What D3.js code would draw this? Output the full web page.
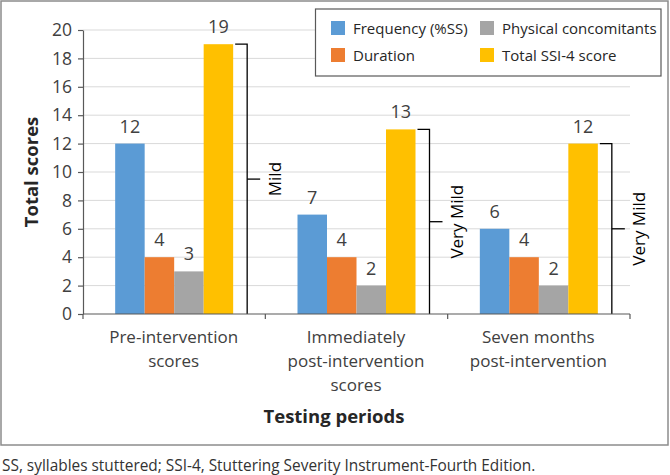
<!DOCTYPE html>
<html><head><meta charset="utf-8">
<script src="https://cdn.jsdelivr.net/npm/d3@7"></script>
<style>
body{margin:0;background:#fff;}
svg{display:block;font-family:"Open Sans",sans-serif;}
</style></head><body>
<svg id="chart" width="670" height="475"></svg>
<script>
const categories = [["Pre-intervention","scores"],["Immediately","post-intervention","scores"],["Seven months","post-intervention"]];
const seriesNames = ["Frequency (%SS)","Duration","Physical concomitants","Total SSI-4 score"];
const seriesColors = ["#5B9BD5","#ED7D31","#A5A5A5","#FFC000"];
const frequency = [12,7,6];
const duration = [4,4,4];
const physical = [3,2,2];
const total = [19,13,12];
const severity = ["Mild","Very Mild","Very Mild"];
const yTicks = [0,2,4,6,8,10,12,14,16,18,20];
const caption = "SS, syllables stuttered; SSI-4, Stuttering Severity Instrument-Fourth Edition.";

(function(){
const series = [frequency,duration,physical,total];
const svg = d3.select("#chart");
const fs = 16.5;

// frame
svg.append("rect").attr("x",1).attr("y",1).attr("width",667).attr("height",444)
  .attr("fill","none").attr("stroke","#8c8c8c").attr("stroke-width",1.5);

const pLeft=83,pRight=630,pTop=30,pBottom=314;
const y = d3.scaleLinear().domain([0,20]).range([pBottom,pTop]);
const catIdx = categories.map((c,i)=>i);
const x0 = d3.scaleBand().domain(catIdx).range([pLeft,pRight]).padding(0);
const inner = 118, off = (x0.bandwidth()-inner)/2;
const x1 = d3.scaleBand().domain(d3.range(series.length)).range([off,off+inner]).padding(0);

// gridlines
svg.append("g").selectAll("line").data(yTicks.filter(d=>d>0)).join("line")
  .attr("x1",pLeft).attr("x2",pRight).attr("y1",d=>y(d)).attr("y2",d=>y(d))
  .attr("stroke","#d9d9d9").attr("stroke-width",1);

// bars
const groups = svg.append("g").selectAll("g").data(catIdx).join("g")
  .attr("transform",i=>`translate(${x0(i)},0)`);
groups.selectAll("rect").data(i=>series.map((s,k)=>({k,v:s[i]}))).join("rect")
  .attr("x",d=>x1(d.k)).attr("width",x1.bandwidth())
  .attr("y",d=>y(d.v)).attr("height",d=>y(0)-y(d.v))
  .attr("fill",d=>seriesColors[d.k]);
groups.selectAll("text.val").data(i=>series.map((s,k)=>({k,v:s[i]}))).join("text")
  .attr("class","val")
  .attr("x",d=>x1(d.k)+x1.bandwidth()/2).attr("y",d=>y(d.v)-11)
  .attr("text-anchor","middle").attr("font-size",18).attr("fill","#404040")
  .text(d=>d.v);

// brackets
groups.each(function(i){
  const g=d3.select(this);
  const xr = x1(3)+x1.bandwidth();
  const bx = xr+14;
  const yt=y(total[i]), yb=y(0), ym=y(total[i]/2);
  g.append("path").attr("d",`M${xr+2},${yt}H${bx}V${yb}`).attr("fill","none")
    .attr("stroke","#000").attr("stroke-width",1.3);
  g.append("line").attr("x1",bx).attr("x2",bx+13).attr("y1",ym).attr("y2",ym)
    .attr("stroke","#000").attr("stroke-width",1.3);
  g.append("text").attr("transform",`translate(${bx+27},${ym}) rotate(-90)`)
    .attr("text-anchor","middle").attr("dominant-baseline","central")
    .attr("font-size",17).attr("fill","#000").text(severity[i]);
});

// y axis
const yAxis = svg.append("g").attr("transform",`translate(${pLeft},0)`)
  .call(d3.axisLeft(y).tickValues(yTicks).tickSize(5).tickSizeOuter(0).tickPadding(6));
yAxis.select(".domain").attr("stroke","#595959").attr("stroke-width",1.2);
yAxis.selectAll(".tick line").attr("stroke","#595959").attr("stroke-width",1.2);
yAxis.selectAll("text").attr("font-size",fs+1).attr("fill","#404040").attr("font-family","Open Sans");

// x axis
const xb = d3.scaleLinear().domain([0,3]).range([pLeft,pRight]);
const xAxis = svg.append("g").attr("transform",`translate(0,${pBottom})`);
xAxis.append("line").attr("x1",pLeft).attr("x2",pRight).attr("stroke","#595959").attr("stroke-width",1.2);
xAxis.selectAll("line.t").data([0,1,2,3]).join("line").attr("class","t")
  .attr("x1",d=>xb(d)).attr("x2",d=>xb(d)).attr("y1",0).attr("y2",5)
  .attr("stroke","#595959").attr("stroke-width",1.2);
svg.append("g").selectAll("text").data(catIdx).join("text")
  .attr("x",i=>x0(i)+x0.bandwidth()/2-0.5).attr("y",343)
  .attr("text-anchor","middle").attr("font-size",fs+0.5).attr("fill","#404040")
  .each(function(i){
    const t=d3.select(this);
    categories[i].forEach((ln,j)=>t.append("tspan").attr("x",x0(i)+x0.bandwidth()/2-0.5).attr("dy",j?24:0).text(ln));
  });

// axis titles
svg.append("text").attr("transform","translate(30,172) rotate(-90)")
  .attr("text-anchor","middle").attr("dominant-baseline","central")
  .attr("font-size",18.5).attr("font-weight","bold").attr("fill","#262626").text("Total scores");
svg.append("text").attr("x",334).attr("y",423).attr("text-anchor","middle")
  .attr("font-size",18.5).attr("font-weight","bold").attr("fill","#262626").text("Testing periods");

// legend
const lg = svg.append("g");
lg.append("rect").attr("x",315.5).attr("y",9).attr("width",345.5).attr("height",67)
  .attr("fill","#fff").attr("stroke","#595959").attr("stroke-width",1.2);
const legPos = [[331,28],[331,55],[480,28],[480,55]];
seriesNames.forEach((n,k)=>{
  lg.append("rect").attr("x",legPos[k][0]).attr("y",legPos[k][1]-7).attr("width",14).attr("height",14).attr("fill",seriesColors[k]);
  lg.append("text").attr("x",legPos[k][0]+22).attr("y",legPos[k][1]).attr("dominant-baseline","central")
    .attr("font-size",15).attr("fill","#262626").text(n);
});

// caption
svg.append("text").attr("x",2).attr("y",471).attr("font-size",15.4).attr("fill","#333").text(caption);
})();
</script>
</body></html>
